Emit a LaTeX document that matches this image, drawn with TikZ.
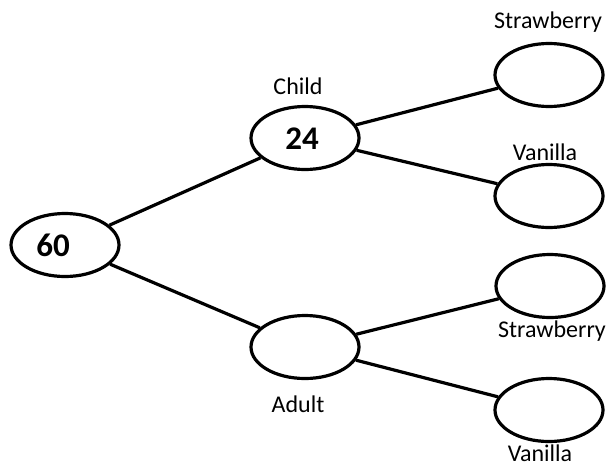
\documentclass[tikz,border=0pt]{standalone}
\usepackage{fontspec}
\setmainfont{Carlito}
\usetikzlibrary{shapes.geometric}
\begin{document}
\begin{tikzpicture}[x=1pt,y=-1pt,
	bubble/.style={ellipse, draw, line width=3.2pt, minimum width=108pt, minimum height=63pt, inner sep=0pt},
	branch/.style={line width=3.2pt},
	tag/.style={font=\fontsize{24}{26}\selectfont, inner sep=0pt},
	count/.style={font=\fontsize{33}{35}\selectfont\bfseries, inner sep=0pt}]
				\useasboundingbox (0,0) rectangle (610,466);
				\node[bubble] (total) at (65,245) {};
				\node[bubble] (child) at (305,138) {};
				\node[bubble] (adult) at (305,347) {};
				\node[bubble] (cs) at (549,75) {};
				\node[bubble] (cv) at (549,196) {};
				\node[bubble] (as) at (550,286) {};
				\node[bubble] (av) at (549,410) {};
				\node[count] (ntotal) at (53,245) {60};
				\node[count] (nchild) at (302,139) {24};
				\node[tag] (lchild) at (298,86) {Child};
				\node[tag] (ladult) at (298,404) {Adult};
				\node[tag] (lcs) at (548,22) {Strawberry};
				\node[tag] (lcv) at (545,152) {Vanilla};
				\node[tag] (las) at (552,331) {Strawberry};
				\node[tag] (lav) at (540,453) {Vanilla};
				\draw[branch] (total) to (child);
				\draw[branch] (total) to (adult);
				\draw[branch] (child) to (cs);
				\draw[branch] (child) to (cv);
				\draw[branch] (adult) to (as);
				\draw[branch] (adult) to (av);
			\end{tikzpicture}
\end{document}
